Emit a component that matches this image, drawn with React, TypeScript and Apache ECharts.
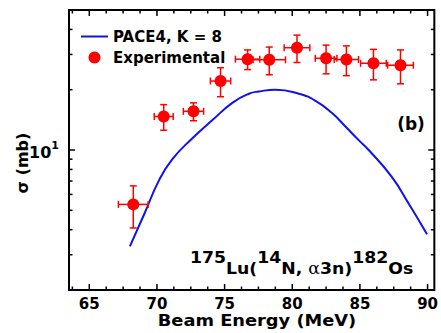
import React, { useEffect, useRef } from "react";
import * as echarts from "echarts";

// PACE4 calculation (K = 8)
const paceEnergy = [68.0, 69.08, 70.16, 71.14, 72.62, 74.1, 75.57, 76.8, 77.54, 78.77, 80.49, 81.72, 82.94, 83.93, 84.91, 85.65, 87.37, 88.6, 89.96];
const paceSigma = [3.3, 4.82, 7.07, 9.0, 11.45, 14.1, 17.2, 19.1, 19.6, 20.0, 19.1, 17.6, 15.3, 13.1, 11.2, 10.0, 7.32, 5.4, 3.8];

// Experimental data
const expEnergy = [68.25, 70.5, 72.7, 74.7, 76.7, 78.3, 80.35, 82.5, 84.0, 86.0, 88.0];
const expSigma = [5.35, 14.7, 15.6, 22.1, 28.4, 28.2, 32.4, 28.7, 28.3, 27.1, 26.5];
const expEnergyErr = [1.1, 0.7, 0.75, 0.75, 0.9, 1.2, 0.95, 0.8, 0.9, 0.95, 0.95];
const expSigmaErr = [1.27, 2.15, 1.6, 3.65, 3.2, 4.45, 5.05, 4.7, 4.8, 4.7, 5.1];

// Axis ticks
const xMajorTicks = [65, 70, 75, 80, 85, 90];
const xMinorTicks = [63.75, 66.25, 67.5, 68.75, 71.25, 72.5, 73.75, 76.25, 77.5, 78.75, 81.25, 82.5, 83.75, 86.25, 87.5, 88.75];
const yMajorTicks = [10];
const yMinorTicks = [3, 4, 5, 6, 7, 8, 9, 20, 30, 40];

export default function App() {
  const ref = useRef<HTMLDivElement>(null);
  useEffect(() => {
    const chart = echarts.init(ref.current!, null, { renderer: "svg" });
    const font = "'DejaVu Sans', sans-serif";
    const X_MIN = 63.5, X_MAX = 90.5, Y_MIN = 2, Y_MAX = 50;
    const red = "#ff0000";
    const blue = "#1010f0";

    const tickData = [
      ...xMajorTicks.map((v) => [v, 10, 0]),
      ...xMinorTicks.map((v) => [v, 10, 1]),
      ...yMajorTicks.map((v) => [70, v, 2]),
      ...yMinorTicks.map((v) => [70, v, 3]),
    ];
    const errData = expEnergy.map((e, i) => [e, expSigma[i], expEnergyErr[i], expSigmaErr[i]]);
    const lineData = paceEnergy.map((e, i) => [e, paceSigma[i]]);
    const expData = expEnergy.map((e, i) => [e, expSigma[i]]);

    chart.setOption({
      animation: false,
      grid: {
        left: 69,
        right: 5,
        top: 10,
        bottom: 43,
        show: true,
        borderColor: "#000",
        borderWidth: 2,
        backgroundColor: "transparent",
      },
      legend: {
        orient: "vertical",
        left: 75,
        top: 24,
        itemWidth: 27,
        itemHeight: 12,
        itemGap: 6,
        textStyle: { fontFamily: font, fontWeight: "bold", fontSize: 15, color: "#000" },
        data: [
          { name: "PACE4, K = 8", itemStyle: { opacity: 0 } },
          { name: "Experimental", icon: "circle", itemStyle: { color: red, opacity: 1 } },
        ],
      },
      xAxis: {
        type: "value",
        min: X_MIN,
        max: X_MAX,
        splitNumber: 5,
        splitLine: { show: false },
        axisLine: { show: false },
        axisTick: { show: false },
        axisLabel: {
          margin: 6,
          fontFamily: font,
          fontWeight: "bold",
          fontSize: 15,
          color: "#000",
          formatter: (v: number) => (Math.abs(v % 5) < 1e-6 ? String(v) : ""),
        },
      },
      yAxis: {
        type: "log",
        logBase: 10,
        min: Y_MIN,
        max: Y_MAX,
        splitLine: { show: false },
        axisLine: { show: false },
        axisTick: { show: false },
        axisLabel: {
          margin: 10,
          color: "#000",
          formatter: (v: number) => (Math.abs(v - 10) < 1e-6 ? "{a|10}{b|1}" : ""),
          rich: {
            a: { fontFamily: font, fontWeight: "bold", fontSize: 16, lineHeight: 20, verticalAlign: "bottom", color: "#000" },
            b: { fontFamily: font, fontWeight: "bold", fontSize: 11, lineHeight: 20, verticalAlign: "top", color: "#000" },
          },
        },
      },
      graphic: [
        {
          type: "text",
          x: 22,
          y: 163,
          rotation: Math.PI / 2,
          style: { text: "σ (mb)", font: `bold 16px ${font}`, fill: "#000", align: "center", verticalAlign: "middle" },
        },
        {
          type: "text",
          x: 257,
          y: 320,
          scaleX: 1.08,
          style: { text: "Beam Energy (MeV)", font: `bold 16.5px ${font}`, fill: "#000", align: "center", verticalAlign: "middle" },
        },
        {
          type: "text",
          x: 411,
          y: 124,
          style: { text: "(b)", font: `bold 17px ${font}`, fill: "#000", align: "center", verticalAlign: "middle" },
        },
        {
          type: "text",
          x: 190,
          y: 250,
          scaleX: 1.08,
          style: {
            text: "{s|175}{b|Lu(}{s|14}{b|N, }{g|α}{b|3n)}{s|182}{b|Os}",
            align: "left",
            verticalAlign: "top",
            fill: "#000",
            rich: {
              s: { fontFamily: font, fontWeight: "bold", fontSize: 16, lineHeight: 27, verticalAlign: "top", fill: "#000" },
              b: { fontFamily: font, fontWeight: "bold", fontSize: 16, lineHeight: 27, verticalAlign: "bottom", fill: "#000" },
              g: { fontFamily: "'DejaVu Serif', serif", fontWeight: "normal", fontSize: 16, lineHeight: 27, verticalAlign: "bottom", fill: "#000" },
            },
          },
        },
      ],
      series: [
        {
          name: "ticks",
          type: "custom",
          coordinateSystem: "cartesian2d",
          silent: true,
          clip: false,
          z: 10,
          encode: { x: 0, y: 1 },
          data: tickData,
          renderItem: (params: any, api: any) => {
            const cs = params.coordSys;
            const kind = api.value(2);
            const len = kind % 2 === 0 ? 6 : 3.5;
            const style = { stroke: "#000", lineWidth: 1.5 };
            if (kind < 2) {
              const px = api.coord([api.value(0), Y_MIN])[0];
              return {
                type: "group",
                children: [
                  { type: "line", shape: { x1: px, y1: cs.y + cs.height, x2: px, y2: cs.y + cs.height - len }, style },
                  { type: "line", shape: { x1: px, y1: cs.y, x2: px, y2: cs.y + len }, style },
                ],
              };
            }
            const py = api.coord([X_MIN, api.value(1)])[1];
            return {
              type: "group",
              children: [
                { type: "line", shape: { x1: cs.x, y1: py, x2: cs.x + len, y2: py }, style },
                { type: "line", shape: { x1: cs.x + cs.width, y1: py, x2: cs.x + cs.width - len, y2: py }, style },
              ],
            };
          },
        },
        {
          name: "PACE4, K = 8",
          type: "line",
          data: lineData,
          smooth: 0.5,
          symbol: "line",
          showSymbol: false,
          color: blue,
          lineStyle: { color: blue, width: 2 },
          z: 3,
        },
        {
          name: "errors",
          type: "custom",
          coordinateSystem: "cartesian2d",
          silent: true,
          z: 4,
          encode: { x: 0, y: 1 },
          data: errData,
          renderItem: (params: any, api: any) => {
            const e = api.value(0), s = api.value(1), ee = api.value(2), es = api.value(3);
            const top = api.coord([e, s + es]);
            const bot = api.coord([e, s - es]);
            const lft = api.coord([e - ee, s]);
            const rgt = api.coord([e + ee, s]);
            const cap = 3.5;
            const style = { stroke: red, lineWidth: 1.5 };
            return {
              type: "group",
              children: [
                { type: "line", shape: { x1: top[0], y1: top[1], x2: bot[0], y2: bot[1] }, style },
                { type: "line", shape: { x1: top[0] - cap, y1: top[1], x2: top[0] + cap, y2: top[1] }, style },
                { type: "line", shape: { x1: bot[0] - cap, y1: bot[1], x2: bot[0] + cap, y2: bot[1] }, style },
                { type: "line", shape: { x1: lft[0], y1: lft[1], x2: rgt[0], y2: rgt[1] }, style },
                { type: "line", shape: { x1: lft[0], y1: lft[1] - cap, x2: lft[0], y2: lft[1] + cap }, style },
                { type: "line", shape: { x1: rgt[0], y1: rgt[1] - cap, x2: rgt[0], y2: rgt[1] + cap }, style },
              ],
            };
          },
        },
        {
          name: "Experimental",
          type: "scatter",
          data: expData,
          symbol: "circle",
          symbolSize: 12,
          itemStyle: { color: red, opacity: 1 },
          z: 5,
        },
      ],
    });
    return () => chart.dispose();
  }, []);
  return <div ref={ref} style={{ position: "absolute", left: 0, top: 0, width: 441, height: 333 }} />;
}
